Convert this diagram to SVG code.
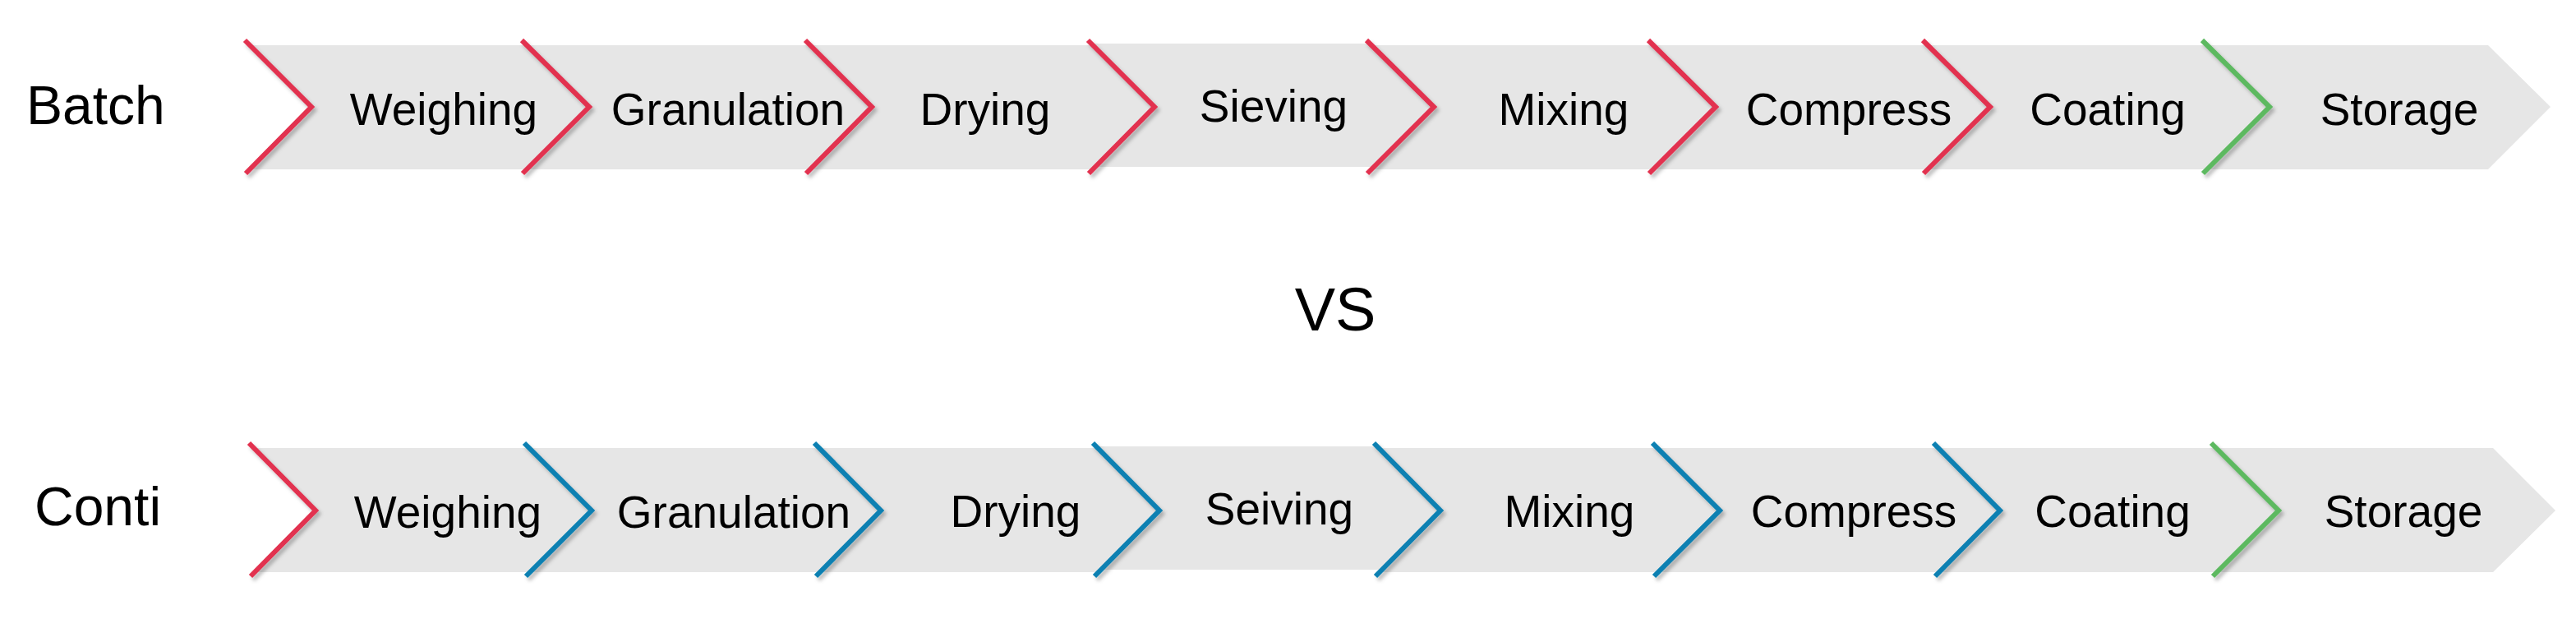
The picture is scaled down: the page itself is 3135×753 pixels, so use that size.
<svg xmlns="http://www.w3.org/2000/svg" width="3135" height="753" viewBox="0 0 3135 753">
<style>
.seg{fill:#E6E6E6}
.lbl{font-family:"Liberation Sans",Arial,sans-serif;font-size:55px;fill:#000;text-anchor:middle}
.title{font-family:"Liberation Sans",Arial,sans-serif;font-size:66px;fill:#000}
.chev{fill:none;stroke-width:6;stroke-linejoin:miter;stroke-linecap:butt;filter:url(#sh)}
.red{stroke:#E2304F}
.blue{stroke:#0A80B2}
.green{stroke:#5DB960}
</style>
<defs>
<filter id="sh" x="-20%" y="-10%" width="160%" height="130%">
<feDropShadow dx="3" dy="4" stdDeviation="2" flood-color="#000" flood-opacity="0.25"/>
</filter>
</defs>
<rect width="3135" height="753" fill="#fff"/>
<text class="title" x="32" y="151">Batch</text>
<text class="title" x="42" y="639">Conti</text>
<text x="1625" y="402" font-family="Liberation Sans,Arial,sans-serif" font-size="74" text-anchor="middle" fill="#000">VS</text>

<g id="batch-row">
<g id="b-weighing"><polygon class="seg" points="304,55 641,55 717,130 641,206 304,206 379,130"/><polyline class="chev red" points="298,49 379,130 299,211"/><text class="lbl" x="540" y="152">Weighing</text></g>
<g id="b-granulation"><polygon class="seg" points="641,55 986,55 1061,130 986,206 641,206 717,130"/><polyline class="chev red" points="635,49 717,130 636,211"/><text class="lbl" x="886" y="152">Granulation</text></g>
<g id="b-drying"><polygon class="seg" points="986,55 1330,55 1405,130 1330,206 986,206 1061,130"/><polyline class="chev red" points="980,49 1061,130 981,211"/><text class="lbl" x="1199" y="152">Drying</text></g>
<g id="b-sieving"><polygon class="seg" points="1330,53 1669,53 1745,128 1669,203 1330,203 1405,128"/><polyline class="chev red" points="1324,49 1405,130 1325,211"/><text class="lbl" x="1550" y="148">Sieving</text></g>
<g id="b-mixing"><polygon class="seg" points="1669,55 2012,55 2088,130 2012,206 1669,206 1745,130"/><polyline class="chev red" points="1663,49 1745,130 1664,211"/><text class="lbl" x="1903" y="152">Mixing</text></g>
<g id="b-compress"><polygon class="seg" points="2012,55 2346,55 2422,130 2346,206 2012,206 2088,130"/><polyline class="chev red" points="2006,49 2088,130 2007,211"/><text class="lbl" x="2250" y="152">Compress</text></g>
<g id="b-coating"><polygon class="seg" points="2346,55 2686,55 2762,130 2686,206 2346,206 2422,130"/><polyline class="chev red" points="2340,49 2422,130 2341,211"/><text class="lbl" x="2565" y="152">Coating</text></g>
<g id="b-storage"><polygon class="seg" points="2686,55 3028,55 3104,130 3028,206 2686,206 2762,130"/><polyline class="chev green" points="2680,49 2762,130 2681,211"/><text class="lbl" x="2920" y="152">Storage</text></g>
</g>

<g id="conti-row">
<g id="c-weighing"><polygon class="seg" points="309,545 644,545 720,621 644,696 309,696 384,621"/><polyline class="chev red" points="303,539 384,621 305,701"/><text class="lbl" x="545" y="642">Weighing</text></g>
<g id="c-granulation"><polygon class="seg" points="644,545 997,545 1072,621 997,696 644,696 720,621"/><polyline class="chev blue" points="638,539 720,621 640,701"/><text class="lbl" x="893" y="642">Granulation</text></g>
<g id="c-drying"><polygon class="seg" points="997,545 1336,545 1411,621 1336,696 997,696 1072,621"/><polyline class="chev blue" points="991,539 1072,621 993,701"/><text class="lbl" x="1236" y="641">Drying</text></g>
<g id="c-seiving"><polygon class="seg" points="1336,543 1678,543 1753,619 1678,693 1336,693 1411,619"/><polyline class="chev blue" points="1330,539 1411,621 1332,701"/><text class="lbl" x="1557" y="638">Seiving</text></g>
<g id="c-mixing"><polygon class="seg" points="1678,545 2017,545 2093,621 2017,696 1678,696 1753,621"/><polyline class="chev blue" points="1672,539 1753,621 1674,701"/><text class="lbl" x="1910" y="641">Mixing</text></g>
<g id="c-compress"><polygon class="seg" points="2017,545 2359,545 2434,621 2359,696 2017,696 2093,621"/><polyline class="chev blue" points="2011,539 2093,621 2013,701"/><text class="lbl" x="2256" y="641">Compress</text></g>
<g id="c-coating"><polygon class="seg" points="2359,545 2697,545 2773,621 2697,696 2359,696 2434,621"/><polyline class="chev blue" points="2353,539 2434,621 2355,701"/><text class="lbl" x="2571" y="641">Coating</text></g>
<g id="c-storage"><polygon class="seg" points="2697,545 3034,545 3110,621 3034,696 2697,696 2773,621"/><polyline class="chev green" points="2691,539 2773,621 2693,701"/><text class="lbl" x="2925" y="641">Storage</text></g>
</g>
<g id="connectors"></g>
</svg>
